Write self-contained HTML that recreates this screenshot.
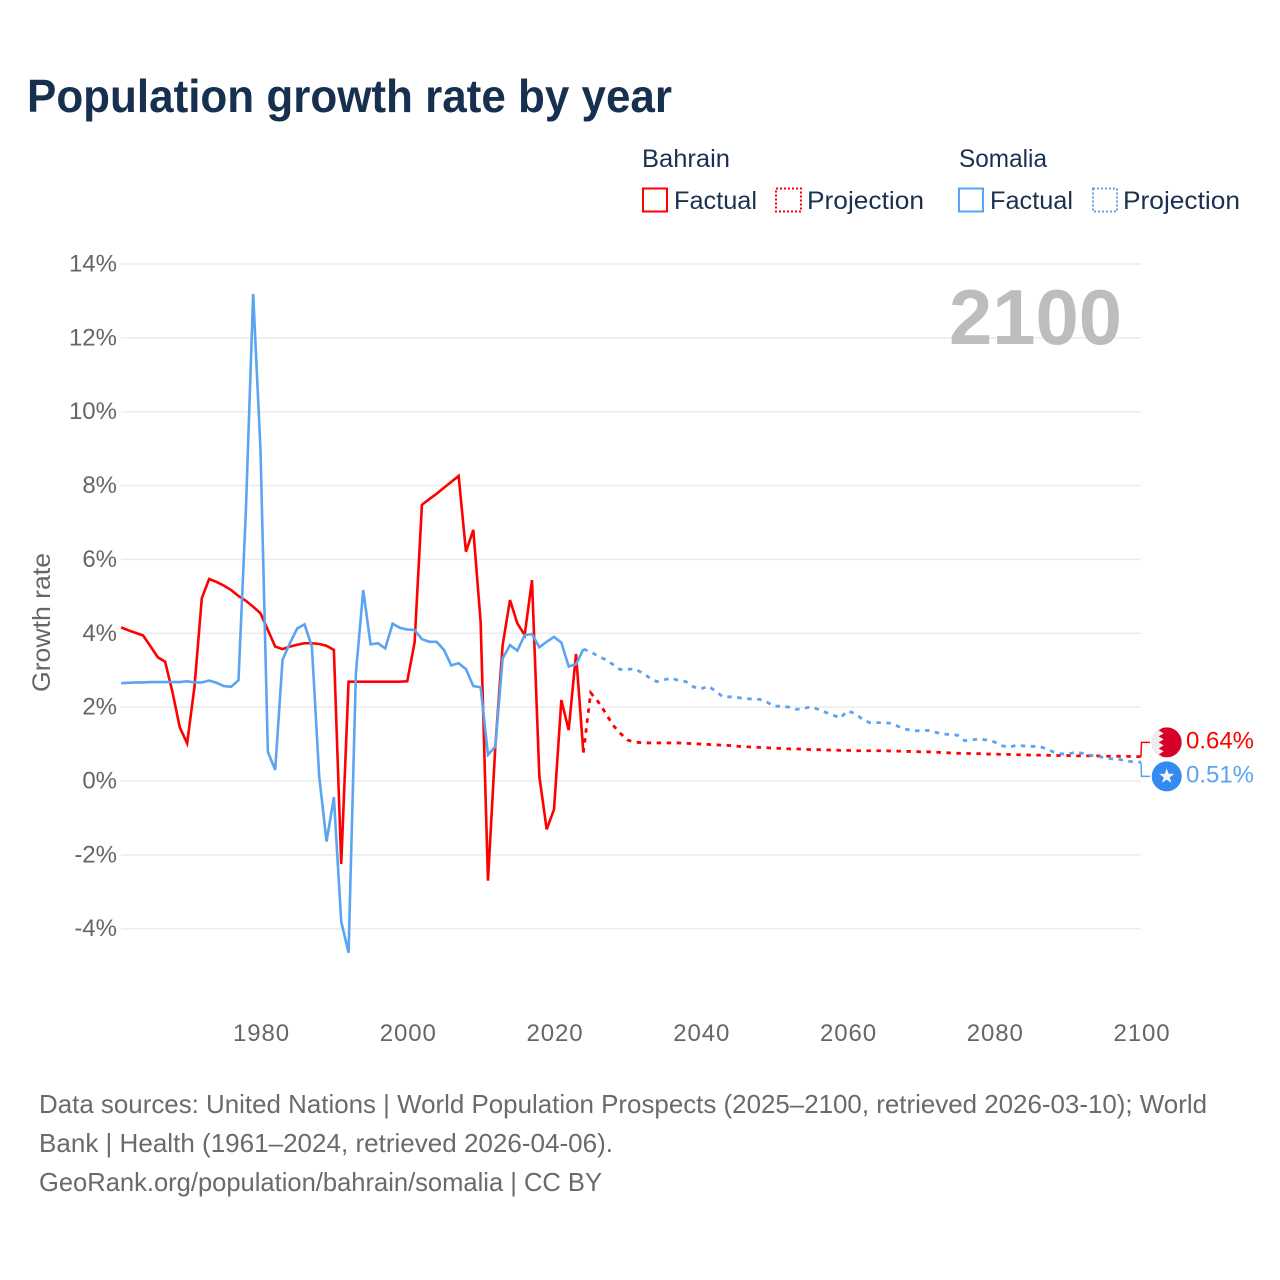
<!DOCTYPE html>
<html lang="en">
<head>
<meta charset="utf-8">
<title>Population growth rate by year</title>
<style>
html,body{margin:0;padding:0;background:#fff;width:1280px;height:1280px;overflow:hidden}
svg{display:block;font-family:"Liberation Sans",sans-serif}
.legend-text{font-size:25px;fill:#1b3050}
.foot{font-size:26px;fill:#6a6a6a}
.tick{font-size:24px;fill:#666}
</style>
</head>
<body>
<svg id="chart" width="1280" height="1280" viewBox="0 0 1280 1280" xmlns="http://www.w3.org/2000/svg">
  <text x="27" y="112" font-size="46" font-weight="bold" fill="#17304f" textLength="645" lengthAdjust="spacingAndGlyphs">Population growth rate by year</text>

  <g>
    <text class="legend-text" x="642" y="167" textLength="88" lengthAdjust="spacingAndGlyphs">Bahrain</text>
    <rect x="643" y="188.5" width="24" height="23" fill="none" stroke="#ff0000" stroke-width="2"/>
    <text class="legend-text" x="674" y="209" textLength="83" lengthAdjust="spacingAndGlyphs">Factual</text>
    <rect x="776" y="188.5" width="25" height="23" fill="none" stroke="#ff0000" stroke-width="2" stroke-dasharray="2 2"/>
    <text class="legend-text" x="807" y="209" textLength="117" lengthAdjust="spacingAndGlyphs">Projection</text>
    <text class="legend-text" x="959" y="167" textLength="88" lengthAdjust="spacingAndGlyphs">Somalia</text>
    <rect x="959" y="188.5" width="24" height="23" fill="none" stroke="#5ba4f0" stroke-width="2"/>
    <text class="legend-text" x="990" y="209" textLength="83" lengthAdjust="spacingAndGlyphs">Factual</text>
    <rect x="1093" y="188.5" width="24" height="23" fill="none" stroke="#5ba4f0" stroke-width="2" stroke-dasharray="2 2"/>
    <text class="legend-text" x="1123" y="209" textLength="117" lengthAdjust="spacingAndGlyphs">Projection</text>
  </g>

  <g id="grid"></g>
  <g id="yticks"></g>
  <g id="xticks"></g>

  <text transform="translate(50 692) rotate(-90)" font-size="25" fill="#666" textLength="139" lengthAdjust="spacingAndGlyphs">Growth rate</text>
  <text x="949" y="344" font-size="78" font-weight="bold" fill="#bdbdbd" textLength="173" lengthAdjust="spacingAndGlyphs">2100</text>

  <g id="series"></g>
  <g id="end-labels"></g>

  <defs>
    <clipPath id="flag-clip"><circle cx="0" cy="0" r="15"/></clipPath>
  </defs>
  <g id="flag-bahrain">
    <g clip-path="url(#flag-clip)">
      <rect x="-15" y="-15" width="30" height="30" fill="#d80027"/>
      <polygon points="-15,-15 -3,-15 -8,-12 -3,-9 -8,-6 -3,-3 -8,0 -3,3 -8,6 -3,9 -8,12 -3,15 -15,15" fill="#eeeeee"/>
    </g>
  </g>
  <g id="flag-somalia">
    <circle cx="0" cy="0" r="15" fill="#338af3"/>
    <polygon points="0,-8 1.9,-2.6 7.6,-2.5 3,1 4.7,6.5 0,3.2 -4.7,6.5 -3,1 -7.6,-2.5 -1.9,-2.6" fill="#f3f3f3"/>
  </g>

  <g>
    <text class="foot" x="39" y="1113" textLength="1168" lengthAdjust="spacingAndGlyphs">Data sources: United Nations | World Population Prospects (2025–2100, retrieved 2026-03-10); World</text>
    <text class="foot" x="39" y="1152" textLength="574" lengthAdjust="spacingAndGlyphs">Bank | Health (1961–2024, retrieved 2026-04-06).</text>
    <text class="foot" x="39" y="1191" textLength="563" lengthAdjust="spacingAndGlyphs">GeoRank.org/population/bahrain/somalia | CC BY</text>
  </g>
</svg>

<script>
const yTickValues = [14, 12, 10, 8, 6, 4, 2, 0, -2, -4];
const xTickYears = [1980, 2000, 2020, 2040, 2060, 2080, 2100];
const factualStartYear = 1961;
const projectionStartYear = 2024;
const endLabelValues = ['0.64%', '0.51%'];

const bahrainFactual = [4.16,4.08,4.01,3.94,3.65,3.35,3.23,2.41,1.45,1.02,2.55,4.95,5.47,5.39,5.29,5.17,5.01,4.88,4.72,4.54,
  4.09,3.64,3.57,3.64,3.69,3.73,3.73,3.71,3.66,3.55,-2.25,2.69,2.69,2.69,2.69,2.69,2.69,2.69,2.69,2.70,
  3.75,7.48,7.63,7.78,7.94,8.10,8.26,6.21,6.80,4.31,-2.70,0.93,3.68,4.90,4.27,3.95,5.44,0.13,-1.31,-0.77,
  2.19,1.38,3.44,0.77];

const bahrainProjection = [0.77,2.39,2.15,1.85,1.52,1.30,1.11,1.05,1.04,1.03,1.03,1.03,1.03,1.03,1.02,1.01,1.00,
  0.99,0.98,0.97,0.96,0.94,0.93,0.92,0.91,0.90,0.89,0.88,0.87,0.87,0.86,0.85,0.85,0.84,0.84,0.83,0.83,
  0.82,0.82,0.82,0.82,0.82,0.81,0.81,0.80,0.80,0.79,0.79,0.78,0.77,0.76,0.75,0.75,0.74,0.74,0.73,0.73,
  0.72,0.72,0.71,0.71,0.70,0.70,0.70,0.69,0.69,0.69,0.68,0.68,0.68,0.68,0.67,0.67,0.67,0.67,0.66,0.66];

const somaliaFactual = [2.65,2.66,2.67,2.67,2.68,2.68,2.68,2.68,2.68,2.70,2.67,2.67,2.72,2.66,2.57,2.55,2.73,7.30,13.19,8.96,
  0.79,0.30,3.28,3.73,4.13,4.24,3.64,0.12,-1.64,-0.44,-3.81,-4.65,2.92,5.17,3.70,3.73,3.59,4.26,4.15,4.10,
  4.09,3.84,3.77,3.77,3.55,3.13,3.19,3.03,2.57,2.54,0.71,0.93,3.32,3.68,3.53,3.95,3.98,3.62,3.77,3.90,
  3.75,3.10,3.16,3.57];

const somaliaProjection = [3.57,3.50,3.38,3.29,3.16,3.02,3.02,3.04,2.93,2.80,2.69,2.74,2.79,2.72,2.69,2.55,2.49,
  2.57,2.44,2.28,2.28,2.26,2.23,2.22,2.21,2.14,2.02,2.03,2.00,1.94,1.96,2.01,1.94,1.86,1.79,1.70,1.90,
  1.83,1.68,1.58,1.58,1.58,1.56,1.47,1.40,1.36,1.36,1.37,1.32,1.27,1.26,1.24,1.09,1.12,1.13,1.11,1.06,
  0.96,0.91,0.97,0.95,0.94,0.94,0.88,0.79,0.74,0.72,0.78,0.75,0.70,0.67,0.63,0.60,0.59,0.54,0.52,0.51];

const SVGNS = 'http://www.w3.org/2000/svg';
const xScale = function (year) { return 121.1 + (year - 1961) * (1141 - 121.1) / 139; };
const yScale = function (value) { return 781 - value * 36.93; };
const pct = function (v) { return v + '%'; };

const gridGroup = document.getElementById('grid');
const yTickGroup = document.getElementById('yticks');
const xTickGroup = document.getElementById('xticks');
const seriesGroup = document.getElementById('series');
const endGroup = document.getElementById('end-labels');

yTickValues.forEach(function (v) {
  const line = document.createElementNS(SVGNS, 'line');
  
  
  line.setAttribute('x1', 121);
  line.setAttribute('x2', 1141);
  line.setAttribute('y1', yScale(v));
  line.setAttribute('y2', yScale(v));
  line.setAttribute('stroke', '#ebebeb');
  line.setAttribute('stroke-width', '1.5');
  gridGroup.appendChild(line);

  const label = document.createElementNS(SVGNS, 'text');
  
  
  label.setAttribute('class', 'tick');
  label.setAttribute('x', 117);
  label.setAttribute('y', yScale(v) + 7.5);
  label.setAttribute('text-anchor', 'end');
  label.textContent = pct(v);
  yTickGroup.appendChild(label);
});

xTickYears.forEach(function (year) {
  const label = document.createElementNS(SVGNS, 'text');
  
  
  label.setAttribute('class', 'tick');
  label.setAttribute('x', xScale(year) + 1);
  label.setAttribute('y', 1041);
  label.setAttribute('text-anchor', 'middle');
  label.setAttribute('style', 'letter-spacing:0.9px');
  label.textContent = String(year);
  xTickGroup.appendChild(label);
});

function drawLine(values, startYear, colour, dashed, name) {
  const pts = values.map(function (v, i) {
    return xScale(startYear + i).toFixed(2) + ',' + yScale(v).toFixed(2);
  }).join(' ');
  const line = document.createElementNS(SVGNS, 'polyline');
  
  
  line.setAttribute('points', pts);
  line.setAttribute('fill', 'none');
  line.setAttribute('stroke', colour);
  line.setAttribute('stroke-width', dashed ? '2.8' : '2.6');
  line.setAttribute('stroke-linejoin', 'miter');
  if (dashed) {
    line.setAttribute('stroke-dasharray', '4.5 5.5');
  }
  seriesGroup.appendChild(line);
}

drawLine(bahrainProjection, projectionStartYear, '#ff0000', true, 'bahrain-projection-line');
drawLine(bahrainFactual, factualStartYear, '#ff0000', false, 'bahrain-factual-line');
drawLine(somaliaProjection, projectionStartYear, '#5ba4f0', true, 'somalia-projection-line');
drawLine(somaliaFactual, factualStartYear, '#5ba4f0', false, 'somalia-factual-line');

const endX = xScale(2100);
const redEndY = yScale(bahrainProjection[bahrainProjection.length - 1]);
const blueEndY = yScale(somaliaProjection[somaliaProjection.length - 1]);
const midEndY = (redEndY + blueEndY) / 2;
const redLabelY = midEndY - 17;
const blueLabelY = midEndY + 17;

function drawEnd(valueY, labelY, colour, text, flagId, name) {
  const leader = document.createElementNS(SVGNS, 'polyline');
  
  
  leader.setAttribute('points', endX + ',' + valueY + ' ' + (endX + 0.5) + ',' + labelY + ' ' + (endX + 9) + ',' + labelY);
  leader.setAttribute('fill', 'none');
  leader.setAttribute('stroke', colour);
  leader.setAttribute('stroke-width', '1.5');
  endGroup.appendChild(leader);

  const label = document.createElementNS(SVGNS, 'text');
  
  
  label.setAttribute('x', 1186);
  label.setAttribute('y', labelY + 6);
  label.setAttribute('font-size', '24');
  label.setAttribute('fill', colour);
  label.setAttribute('textLength', '68');
  label.setAttribute('lengthAdjust', 'spacingAndGlyphs');
  label.textContent = text;
  endGroup.appendChild(label);

  document.getElementById(flagId).setAttribute('transform', 'translate(1166.7 ' + labelY + ')');
}

drawEnd(redEndY, redLabelY, '#ff0000', endLabelValues[0], 'flag-bahrain', 'bahrain');
drawEnd(blueEndY, blueLabelY, '#5ba4f0', endLabelValues[1], 'flag-somalia', 'somalia');
</script>
</body>
</html>
